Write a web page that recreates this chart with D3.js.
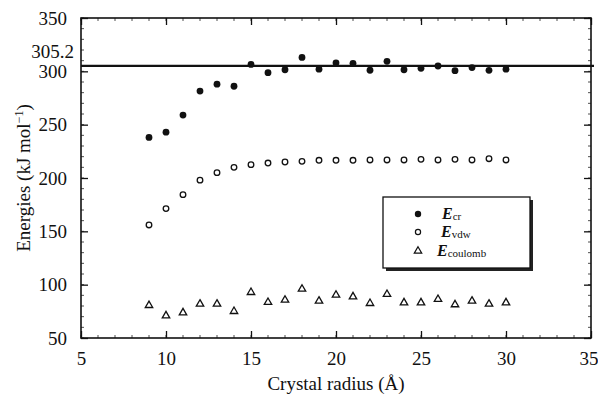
<!DOCTYPE html>
<html><head><meta charset="utf-8">
<script src="https://cdn.jsdelivr.net/npm/d3@7"></script>
<style>body{margin:0;background:#fff}svg{display:block}text{font-family:"Liberation Serif","Times New Roman",serif;fill:#111}</style>
</head><body>
<script>
const radius = [9,10,11,12,13,14,15,16,17,18,19,20,21,22,23,24,25,26,27,28,29,30];
const eCr = [238,243,259,281.5,288,286,306.5,298.7,301.5,313,302,308,307.5,301,309.4,301.5,302.8,305,300.6,303.5,300.9,302];
const eVdw = [156,171.3,184.4,198,205,210,212.5,214,215,215.6,216.6,216.6,216.6,216.9,216.9,216.9,217.5,216.9,217.5,216.9,218.1,216.9];
const eCoulomb = [80.6,70.9,73.7,81.9,81.9,75,92.8,83.5,85.6,95.9,84.7,90.3,88.7,82.5,91,83.1,83.1,86.3,81.3,84.7,81.9,83.1];
const xTicks = [5,10,15,20,25,30,35];
const yTicks = [50,100,150,200,250,300,350];
const refValue = 305.2;
const legendLabels = [["E","cr"],["E","vdw"],["E","coulomb"]];

const W=598,H=400;
const svg=d3.select("body").append("svg").attr("width",W).attr("height",H);
const x=d3.scaleLinear().domain([5,35]).range([81,591]);
const y=d3.scaleLinear().domain([50,350]).range([338,18]);

const g=svg.append("g");
// minor ticks
const minorX=d3.range(5,35.01,1), minorY=d3.range(50,350.01,10);
g.append("g").selectAll("line").data(minorX).join("line")
 .attr("x1",d=>x(d)).attr("x2",d=>x(d)).attr("y1",338).attr("y2",335).attr("stroke","#222").attr("stroke-width",0.8);
g.append("g").selectAll("line").data(minorX).join("line")
 .attr("x1",d=>x(d)).attr("x2",d=>x(d)).attr("y1",18).attr("y2",21).attr("stroke","#222").attr("stroke-width",0.8);
g.append("g").selectAll("line").data(minorY).join("line")
 .attr("x1",81).attr("x2",84).attr("y1",d=>y(d)).attr("y2",d=>y(d)).attr("stroke","#222").attr("stroke-width",0.8);
g.append("g").selectAll("line").data(minorY).join("line")
 .attr("x1",591).attr("x2",588).attr("y1",d=>y(d)).attr("y2",d=>y(d)).attr("stroke","#222").attr("stroke-width",0.8);

// axes with inward ticks
const axB=d3.axisBottom(x).tickValues(xTicks).tickSize(-7).tickPadding(14).tickFormat(d3.format("d"));
const axT=d3.axisTop(x).tickValues(xTicks).tickSize(-7).tickFormat("");
const axL=d3.axisLeft(y).tickValues(yTicks).tickSize(-7).tickPadding(14).tickFormat(d3.format("d"));
const axR=d3.axisRight(y).tickValues(yTicks).tickSize(-7).tickFormat("");
function style(sel){sel.select(".domain").remove();sel.selectAll("line").attr("stroke","#111").attr("stroke-width",1.3);sel.selectAll("text").style("font-size","19px").attr("fill","#111");}
const bx=g.append("g").attr("transform","translate(0,338)").call(axB).call(style);
bx.selectAll(".tick text").filter(d=>d===35).attr("text-anchor","end").attr("x",7);
g.append("g").attr("transform","translate(0,18)").call(axT).call(style);
g.append("g").attr("transform","translate(81,0)").call(axL).call(style);
g.append("g").attr("transform","translate(591,0)").call(axR).call(style);

// frame
g.append("rect").attr("x",81).attr("y",18).attr("width",510).attr("height",320).attr("fill","none").attr("stroke","#111").attr("stroke-width",1.6);

// ref line
g.append("line").attr("x1",81).attr("x2",594).attr("y1",y(refValue)).attr("y2",y(refValue)).attr("stroke","#111").attr("stroke-width",2.2);
g.append("text").attr("x",74).attr("y",58).attr("text-anchor","end").style("font-size","19px").text(String(refValue));

// data
g.append("g").selectAll("circle").data(radius).join("circle")
 .attr("cx",d=>x(d)).attr("cy",(d,i)=>y(eCr[i])).attr("r",3.4).attr("fill","#111");
g.append("g").selectAll("circle").data(radius).join("circle")
 .attr("cx",d=>x(d)).attr("cy",(d,i)=>y(eVdw[i])).attr("r",2.8).attr("fill","none").attr("stroke","#111").attr("stroke-width",1.3);
const tri=d3.symbol().type(d3.symbolTriangle).size(24);
g.append("g").selectAll("path").data(radius).join("path")
 .attr("transform",(d,i)=>`translate(${x(d)},${y(eCoulomb[i])})`).attr("d",tri).attr("fill","none").attr("stroke","#111").attr("stroke-width",1.3);

// legend
const lg=svg.append("g");
lg.append("rect").attr("x",386).attr("y",200).attr("width",147).attr("height",71).attr("fill","#222");
lg.append("rect").attr("x",383).attr("y",197).attr("width",147).attr("height",71).attr("fill","#fff").attr("stroke","#111").attr("stroke-width",1.3);
const rowsY=[214,232,251];
lg.append("circle").attr("cx",418).attr("cy",rowsY[0]).attr("r",3.2).attr("fill","#111");
lg.append("circle").attr("cx",418).attr("cy",rowsY[1]).attr("r",2.6).attr("fill","none").attr("stroke","#111").attr("stroke-width",1.2);
lg.append("path").attr("transform",`translate(418,${rowsY[2]})`).attr("d",tri).attr("fill","none").attr("stroke","#111").attr("stroke-width",1.2);
legendLabels.forEach((l,i)=>{
  const t=lg.append("text").attr("x",[442,441,437][i]).attr("y",rowsY[i]+5);
  t.append("tspan").style("font-size","16px").style("font-style","italic").style("font-weight","bold").text(l[0]);
  t.append("tspan").style("font-size","11px").attr("dy",1).text(l[1]);
});

// axis titles
svg.append("text").attr("x",336).attr("y",390).attr("text-anchor","middle").style("font-size","19px").text("Crystal radius (Å)");
const yt=svg.append("text").attr("transform","translate(30,178) rotate(-90)").attr("text-anchor","middle").style("font-size","19px");
yt.append("tspan").text("Energies (kJ mol");
yt.append("tspan").style("font-size","12px").attr("dy",-7).text("−1");
yt.append("tspan").attr("dy",7).text(")");
</script>
</body></html>
